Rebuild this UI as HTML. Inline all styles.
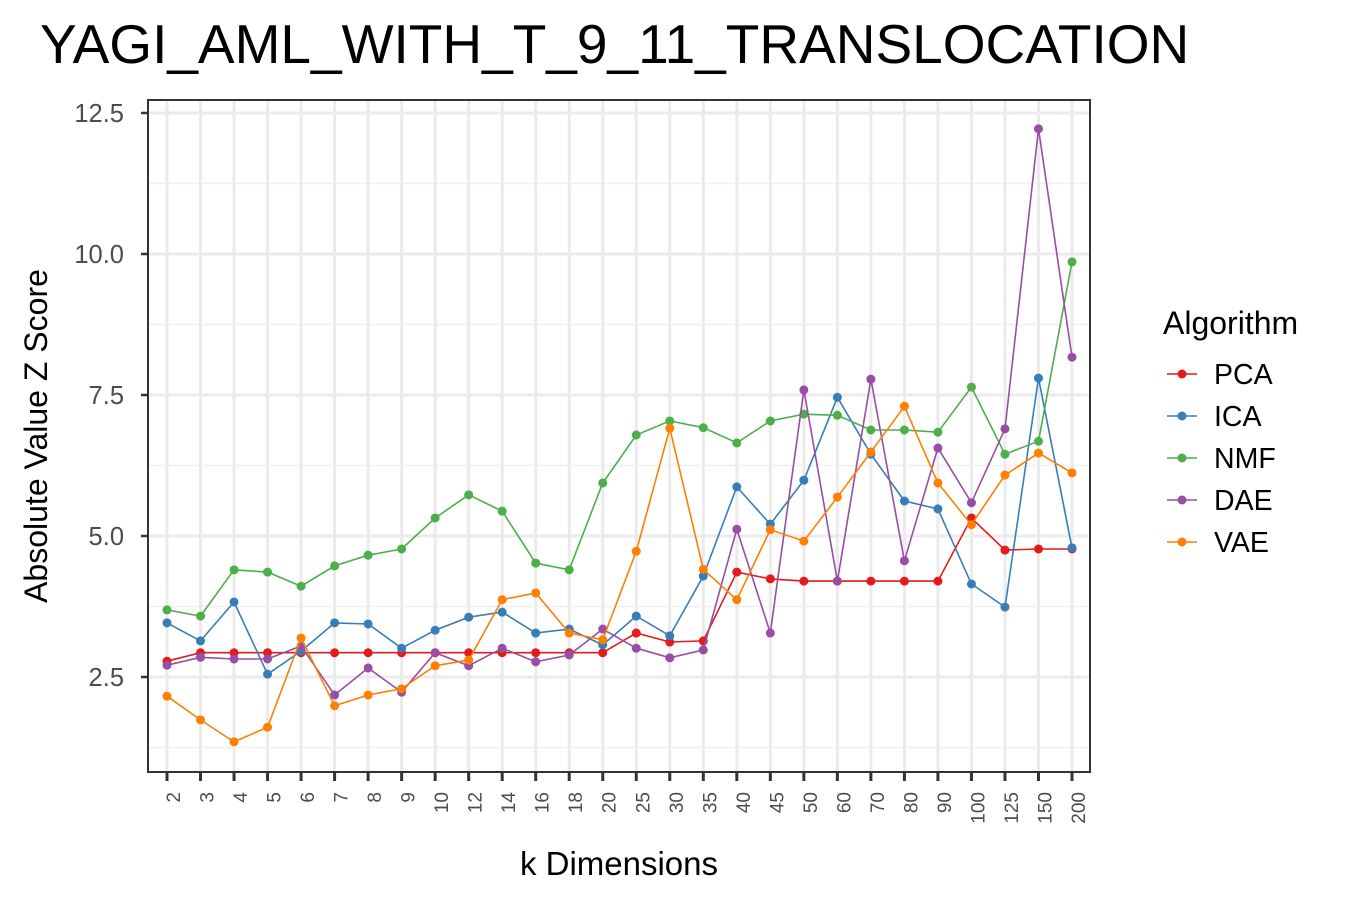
<!DOCTYPE html>
<html><head><meta charset="utf-8"><style>
html,body{margin:0;padding:0;background:#fff;}
svg{display:block;font-family:"Liberation Sans",Arial,sans-serif;}
</style></head><body>
<svg id="chart" width="1350" height="900" viewBox="0 0 1350 900">
<text x="40" y="63" font-size="55" fill="#000">YAGI_AML_WITH_T_9_11_TRANSLOCATION</text>
<g id="grid"></g>
<g id="series"></g>
<rect x="148" y="100" width="942" height="672" fill="none" stroke="#333" stroke-width="2"/>
<g id="axes"></g>
<text x="619" y="875" font-size="33" text-anchor="middle" fill="#000">k Dimensions</text>
<text transform="translate(47,436) rotate(-90)" font-size="32" text-anchor="middle" fill="#000">Absolute Value Z Score</text>
<g id="legend">
<text x="1163" y="334" font-size="32" fill="#000">Algorithm</text>
</g>
</svg>
<script>
const categories = ["2","3","4","5","6","7","8","9","10","12","14","16","18","20","25","30","35","40","45","50","60","70","80","90","100","125","150","200"];
const yTicks = [2.5, 5.0, 7.5, 10.0, 12.5];
const seriesNames = ["PCA","ICA","NMF","DAE","VAE"];
const seriesColors = ["#e41a1c","#377eb8","#4daf4a","#984ea3","#ff7f00"];
const pcaValues = [2.78,2.93,2.93,2.93,2.93,2.93,2.93,2.93,2.93,2.93,2.93,2.93,2.93,2.93,3.28,3.12,3.14,4.36,4.24,4.20,4.20,4.20,4.20,4.20,5.32,4.75,4.77,4.77];
const icaValues = [3.46,3.14,3.83,2.55,2.96,3.46,3.44,3.01,3.33,3.56,3.65,3.28,3.35,3.07,3.58,3.23,4.29,5.87,5.21,5.99,7.46,6.45,5.62,5.48,4.15,3.74,7.80,4.79];
const nmfValues = [3.69,3.58,4.40,4.36,4.11,4.47,4.66,4.77,5.32,5.73,5.44,4.52,4.40,5.94,6.79,7.04,6.92,6.65,7.04,7.16,7.14,6.88,6.88,6.84,7.64,6.45,6.68,9.86];
const daeValues = [2.71,2.85,2.82,2.82,3.05,2.18,2.66,2.23,2.93,2.70,3.01,2.77,2.89,3.35,3.01,2.84,2.98,5.12,3.28,7.59,4.20,7.78,4.56,6.56,5.59,6.90,12.22,8.17];
const vaeValues = [2.16,1.74,1.35,1.61,3.19,1.99,2.18,2.29,2.70,2.80,3.87,3.99,3.28,3.16,4.73,6.91,4.41,3.87,5.11,4.91,5.69,6.49,7.30,5.94,5.20,6.08,6.47,6.12];
const allSeries = [pcaValues, icaValues, nmfValues, daeValues, vaeValues];

const NS = "http://www.w3.org/2000/svg";
const L = 148, R = 1090, T = 100, B = 772;
const xFirst = 167, xLast = 1072;
function xScale(i){ return xFirst + i * (xLast - xFirst) / (categories.length - 1); }
function yScale(v){ return 677 - (v - 2.5) * 56.4; }
function mk(tag, attrs, parent){ const e = document.createElementNS(NS, tag); for (const k in attrs) e.setAttribute(k, attrs[k]); parent.appendChild(e); return e; }

const grid = document.getElementById('grid');
const axes = document.getElementById('axes');
for (let i = 0; i < yTicks.length; i++) {
  const v = yTicks[i] - 1.25;
  const gl = mk('line', {x1:L, x2:R, y1:yScale(v), y2:yScale(v), stroke:'#f0f0f0', 'stroke-width':1.5}, grid);
  
  
}
yTicks.forEach(v => {
  const y = yScale(v);
  const gl = mk('line', {x1:L, x2:R, y1:y, y2:y, stroke:'#ebebeb', 'stroke-width':3}, grid);
  
  
  const tk = mk('line', {x1:L-7, x2:L, y1:y, y2:y, stroke:'#333', 'stroke-width':2.5}, axes);
  
  
  const t = mk('text', {x:L-24, y:y+9, 'font-size':25.5, 'text-anchor':'end', fill:'#4d4d4d'}, axes);
  t.textContent = v.toFixed(1);
  
  
});
categories.forEach((c, i) => {
  const x = xScale(i);
  const gl = mk('line', {x1:x, x2:x, y1:T, y2:B, stroke:'#ebebeb', 'stroke-width':3}, grid);
  
  
  const tk = mk('line', {x1:x, x2:x, y1:B, y2:B+9, stroke:'#333', 'stroke-width':3}, axes);
  
  
  const t = mk('text', {transform:'translate(' + (x+13) + ',792) rotate(-90)', 'font-size':19, 'text-anchor':'end', fill:'#4d4d4d'}, axes);
  t.textContent = c;
  
  
});

const sg = document.getElementById('series');
allSeries.forEach((vals, s) => {
  const g = mk('g', {}, sg);
  
  
  const pts = vals.map((v, i) => xScale(i).toFixed(1) + ',' + yScale(v).toFixed(1)).join(' ');
  const pl = mk('polyline', {points:pts, fill:'none', stroke:seriesColors[s], 'stroke-width':1.6}, g);
  
  
  vals.forEach((v, i) => {
    const c = mk('circle', {cx:xScale(i), cy:yScale(v), r:4.5, fill:seriesColors[s]}, g);
    
    
  });
});

const lg = document.getElementById('legend');
seriesNames.forEach((n, i) => {
  const y = 374 + i * 42;
  const g = mk('g', {}, lg);
  
  
  mk('line', {x1:1167, x2:1197, y1:y, y2:y, stroke:seriesColors[i], 'stroke-width':1.6}, g);
  mk('circle', {cx:1182, cy:y, r:4.5, fill:seriesColors[i]}, g);
  const t = mk('text', {x:1214, y:y+10, 'font-size':28.5, fill:'#000'}, g);
  t.textContent = n;
  
  
});
</script>
</body></html>
